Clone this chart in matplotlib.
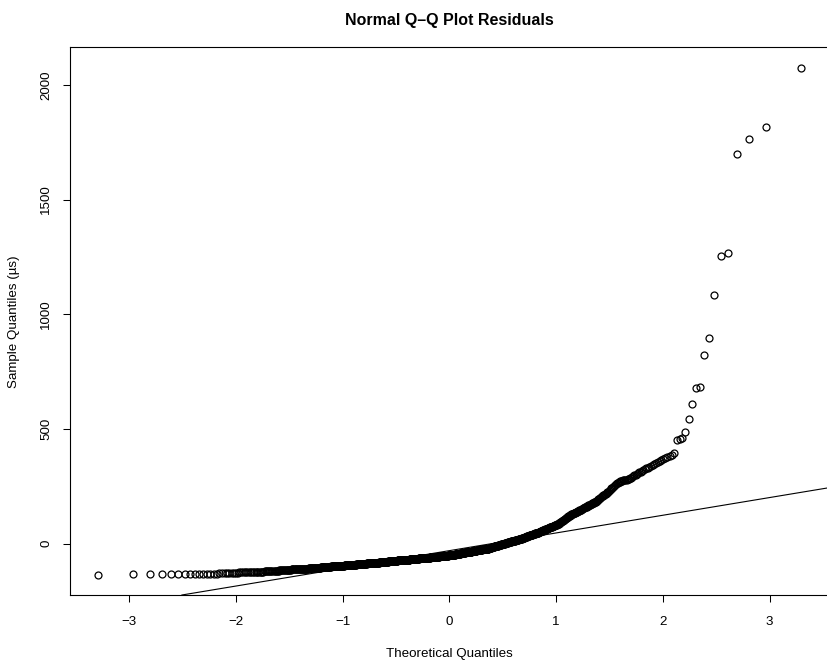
import statistics
import matplotlib
matplotlib.use('Agg')
import matplotlib.pyplot as plt
import numpy as np

title = 'Normal Q\u2013Q Plot Residuals'
x_label = 'Theoretical Quantiles'
y_label = 'Sample Quantiles (\u00b5s)'
x_ticks = [-3, -2, -1, 0, 1, 2, 3]
y_ticks = [0, 500, 1000, 1500, 2000]

# residuals, in rank order (1000 points)
lower_tail = [
    -135, -134, -134, -133, -133, -133, -132, -132, -132, -131,
    -131, -131, -130, -130, -130, -129, -129, -128, -128, -127, -127, -127, -126,
    -126, -125, -125, -125, -124, -124, -124, -124, -123, -123, -123,
    -122, -122, -122, -122, -121, -121, -121, -120, -120, -120,
    -119, -119, -119, -119, -118, -118, -118, -117, -117, -117, -117,
    -116, -116, -116, -115, -115, -115, -114, -114, -114, -114, -113, -113,
]

lower_body = [
    -113, -113, -112, -112, -112, -112, -112, -111, -111, -111, -111, -111,
    -110, -110, -110, -110, -110, -109, -109, -109, -109,
    -108, -108, -108, -108, -108, -107, -107, -107, -107, -107,
    -106, -106, -106, -106, -106, -105, -105, -105, -105, -105,
    -104, -104, -104, -104, -104, -103, -103, -103, -103, -103,
    -102, -102, -102, -102, -102, -101, -101, -101, -101, -101, -100, -100, -100,
    -100, -100, -99, -99, -99, -99, -99, -99, -98, -98, -98, -98, -98,
    -97, -97, -97, -97, -97, -97, -96, -96, -96, -96, -96, -95, -95, -95, -95,
    -95, -95, -95,
    -94, -94, -94, -94, -94, -94, -94,
    -93, -93, -93, -93, -93, -93, -93,
    -92, -92, -92, -92, -92, -92, -92,
    -91, -91, -91, -91, -91, -91, -91, -91,
    -90, -90, -90, -90, -90, -90, -90,
    -89, -89, -89, -89, -89, -89, -89,
    -88, -88, -88, -88, -88, -88, -88,
    -87, -87, -87, -87, -87, -87, -87,
    -86, -86, -86, -86, -86, -86, -86,
    -85, -85, -85, -85, -85, -85, -85,
    -84, -84, -84, -84, -84, -84, -84, -84,
    -83, -83, -83, -83, -83, -83, -83,
    -82, -82, -82, -82, -82, -82, -82,
    -81, -81, -81, -81, -81, -81, -81,
    -80, -80, -80, -80, -80, -80, -80,
    -79, -79, -79, -79, -79, -79, -79,
    -78, -78, -78, -78, -78, -78, -78,
    -77, -77, -77, -77, -77, -77, -77, -77,
    -76, -76, -76, -76, -76, -76, -76,
    -75, -75, -75, -75, -75, -75, -75,
    -74, -74, -74, -74,
]

middle_body = [
    -74, -74, -74, -74,
    -73, -73, -73, -73, -73, -73, -73, -73,
    -72, -72, -72, -72, -72, -72, -72, -72,
    -71, -71, -71, -71, -71, -71, -71, -71, -71,
    -70, -70, -70, -70, -70, -70, -70, -70,
    -69, -69, -69, -69, -69, -69, -69, -69,
    -68, -68, -68, -68, -68, -68, -68, -68,
    -67, -67, -67, -67, -67, -67, -67, -67, -67,
    -66, -66, -66, -66, -66, -66, -66, -66,
    -65, -65, -65, -65, -65, -65, -65, -65,
    -64, -64, -64, -64, -64, -64, -64, -64,
    -63, -63, -63, -63, -63, -63, -63, -63, -63,
    -62, -62, -62, -62, -62, -62, -62, -62,
    -61, -61, -61, -61, -61, -61, -61, -61,
    -60, -60, -60, -60, -60, -60, -60, -60,
    -59, -59, -59, -59, -59, -59, -59, -59, -59,
    -58, -58, -58, -58, -58, -58, -58, -58,
    -57, -57, -57, -57, -57, -57, -57, -57,
    -56, -56, -56, -56, -56, -56, -56, -56,
    -55, -55, -55, -55, -55, -55, -55, -55, -55,
    -54, -54, -54, -54, -54, -54, -54, -54,
    -53, -53, -53, -53, -53, -53, -53, -53,
    -52, -52, -52, -52, -52, -52, -52, -52, -52,
    -51, -51, -51, -51, -51, -51, -51,
    -50, -50, -50, -50, -50, -49, -49, -49, -49, -49, -48, -48, -48, -48,
    -47, -47, -47, -47, -47, -46, -46, -46, -46, -46, -45, -45, -45, -45,
    -44, -44, -44, -44, -44, -43, -43, -43, -43, -43, -42, -42, -42, -42,
    -41, -41, -41, -41, -41, -40, -40, -40, -40, -40, -39, -39, -39, -39,
    -38, -38, -38, -38, -38, -37, -37, -37, -37, -37, -36, -36, -36, -36,
    -35, -35, -35, -35, -35, -34, -34, -34, -34, -34, -33, -33, -33, -33,
    -32, -32, -32, -32, -32, -31, -31, -31, -31, -31, -30, -30, -30, -30,
    -29, -29, -29, -29, -29, -28, -28, -28, -28, -28, -27, -27, -27, -27,
    -26, -26, -26, -26, -26, -25, -25, -25, -25, -25, -24, -24, -24, -24,
    -23, -23, -23, -23, -23, -22, -22, -22, -22, -22, -21, -21, -21, -21, -21,
    -20, -20,
]

upper_body = [
    -20, -19, -19, -18, -18, -18, -17, -17, -16, -16,
    -16, -15, -15, -14, -14, -14, -13, -13, -12, -12,
    -12, -11, -11, -10, -10, -10, -9, -9, -8, -8,
    -8, -7, -7, -6, -6, -6, -5, -5, -4, -4,
    -4, -3, -3, -2, -2, -2, -1, -1, 0, 0,
    0, 1, 1, 2, 2, 2, 3, 3, 4, 4,
    4, 5, 5, 6, 6, 6, 7, 7, 8, 8,
    8, 9, 9, 10, 10, 10, 11, 11, 12, 12,
    12, 13, 13, 14, 14, 14, 15, 15, 16, 16,
    16, 17, 17, 18, 18, 18, 19, 19, 20, 20,
    20, 21, 21, 22, 22, 22, 23,
    24, 24, 25, 25, 26, 26, 27, 28, 28, 29, 29, 30, 30, 31, 32, 32,
    33, 33, 34, 34, 35, 36, 36, 37, 37, 38, 39, 39, 40, 40, 41, 41,
    42, 43, 43, 44, 44, 45, 45, 46, 47, 47, 48, 48, 49, 49, 50,
    51, 51, 52, 53, 54, 54, 55, 56, 57, 57, 58, 59, 60, 60, 61, 62,
    63, 63, 64, 65, 66, 66, 67, 68, 69, 69, 70, 71, 72, 72, 73, 74,
    75, 75, 76, 77, 78, 78, 79, 80, 81, 81, 82, 83, 84, 84, 85,
    87, 88, 90, 91, 93, 94, 96, 97, 99, 100, 102, 103, 105, 107,
    108, 110, 111, 113, 114, 116, 117, 119, 120, 122, 123, 125, 127, 128,
    129, 130, 131, 132, 133, 134, 136, 137, 138, 139, 140, 141, 142,
    144, 145, 146, 148, 149, 151, 152, 154, 155, 157, 158, 160, 161, 162,
    164, 165, 167, 168, 170, 171, 173, 174, 176, 177, 179, 180, 182, 183,
    186, 188, 191, 193, 196, 199, 201, 204, 206, 209, 211, 214, 217, 219,
    222, 224, 227,
    231, 234, 238, 241, 245, 249, 252, 256, 259, 263, 266, 270,
    271, 272, 274, 275, 276, 277, 278, 280, 281, 282,
    285, 288, 292, 295, 298, 301, 305, 308, 311, 314, 318, 321, 324,
    328, 332, 336, 340, 344, 348, 353, 357, 361, 365, 369, 373,
]

upper_tail = [
    377, 382, 387, 394, 453, 458, 462, 487, 542, 609, 681,
    684, 822, 895, 1085, 1255, 1266, 1699, 1763, 1816, 2075,
]

residuals = np.sort(np.array(lower_tail + lower_body + middle_body + upper_body + upper_tail, dtype=float))
n = len(residuals)

# ppoints / qnorm as R's qqnorm does
a = 3 / 8 if n <= 10 else 0.5
probs = (np.arange(1, n + 1) - a) / (n + 1 - 2 * a)
nd = statistics.NormalDist()
theoretical = np.array([nd.inv_cdf(p) for p in probs])

# qqline through the quartiles
q1, q3 = np.percentile(residuals, [25, 75])
z1, z3 = nd.inv_cdf(0.25), nd.inv_cdf(0.75)
slope = (q3 - q1) / (z3 - z1)
intercept = q1 - slope * z1

plt.rcParams['font.family'] = ['Liberation Sans', 'DejaVu Sans']
W, H = 828, 668
fig = plt.figure(figsize=(W / 100, H / 100), dpi=100)
left, right, top, bottom = 70.4, 828.6, 47.4, 595.0
ax = fig.add_axes([left / W, 1 - bottom / H, (right - left) / W, (bottom - top) / H])

ax.plot(theoretical, residuals, 'o', ms=5.0, mfc='none', mec='black', mew=0.9)
ax.axline((0, intercept), slope=slope, color='black', lw=0.8)

xpad = 0.04 * (theoretical.max() - theoretical.min())
ypad = 0.04 * (residuals.max() - residuals.min())
ax.set_xlim(theoretical.min() - xpad, theoretical.max() + xpad)
ax.set_ylim(residuals.min() - ypad, residuals.max() + ypad)

ax.set_xticks(x_ticks)
ax.set_yticks(y_ticks)
ax.set_yticklabels([str(v) for v in y_ticks], rotation=90, va='center')
ax.tick_params(direction='out', length=5, width=0.75, labelsize=9.6, color='black')
ax.tick_params(axis='x', pad=10)
ax.tick_params(axis='y', pad=8)
for s in ax.spines.values():
    s.set_linewidth(0.8)
    s.set_color('black')

fig.text((left + right) / 2 / W, 1 - 21 / H, title, ha='center', va='center',
         fontsize=11.5, fontweight='bold')
fig.text((left + right) / 2 / W, 1 - 654 / H, x_label, ha='center', va='center', fontsize=9.6)
fig.text(13.8 / W, 1 - (top + bottom) / 2 / H, y_label, ha='center', va='center',
         rotation=90, fontsize=9.6)

fig.savefig('out.png', dpi=100)
